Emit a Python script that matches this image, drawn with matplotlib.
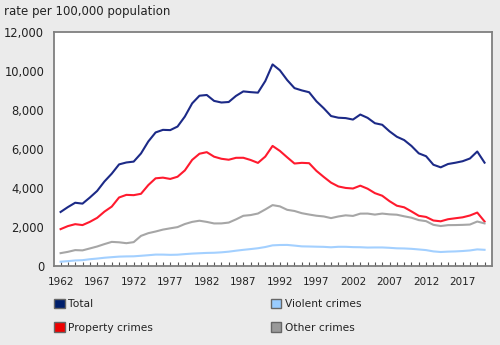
import matplotlib
matplotlib.use("Agg")
import matplotlib.pyplot as plt
from matplotlib.patches import Patch
from matplotlib.ticker import FuncFormatter, MultipleLocator

years = list(range(1962, 2021))

total = [2771, 3022, 3245, 3199, 3511, 3850, 4336, 4737, 5212, 5311,
         5355, 5773, 6388, 6852, 6984, 6971, 7154, 7666, 8343, 8736,
         8773, 8470, 8387, 8413, 8727, 8957, 8919, 8892, 9485, 10342,
         10040, 9538, 9125, 9008, 8914, 8449, 8093, 7693, 7607, 7587,
         7512, 7770, 7600, 7325, 7245, 6908, 6631, 6461, 6159, 5779,
         5632, 5195, 5061, 5232, 5297, 5375, 5515, 5874, 5301]

property_crimes = [1891, 2047, 2146, 2099, 2264, 2469, 2789, 3047, 3515, 3649,
                   3634, 3704, 4151, 4498, 4533, 4466, 4579, 4903, 5444, 5759,
                   5840, 5608, 5501, 5451, 5550, 5552, 5438, 5289, 5612, 6160,
                   5904, 5575, 5257, 5292, 5274, 4880, 4569, 4276, 4081, 4004,
                   3975, 4121, 3965, 3737, 3605, 3325, 3093, 3011, 2800, 2576,
                   2517, 2334, 2293, 2399, 2449, 2497, 2591, 2741, 2285]

violent = [221, 249, 284, 299, 347, 381, 423, 453, 481, 492,
           497, 524, 553, 585, 584, 572, 580, 610, 636, 654,
           671, 679, 701, 735, 785, 829, 868, 911, 973, 1059,
           1077, 1081, 1046, 1007, 1000, 990, 982, 960, 985, 984,
           968, 963, 946, 951, 951, 933, 907, 900, 881, 849,
           815, 749, 718, 737, 748, 768, 797, 852, 830]

other = [659, 726, 815, 801, 900, 1000, 1124, 1237, 1216, 1170,
         1224, 1545, 1684, 1769, 1867, 1933, 1995, 2153, 2263, 2323,
         2262, 2183, 2185, 2227, 2392, 2576, 2613, 2692, 2900, 3123,
         3059, 2882, 2822, 2709, 2640, 2579, 2542, 2457, 2541, 2599,
         2569, 2686, 2689, 2637, 2689, 2650, 2631, 2550, 2478, 2354,
         2300, 2112, 2050, 2096, 2100, 2110, 2127, 2281, 2186]

bg = "#ebebeb"
edge = "#7f7f7f"
txt = "#222222"

fig = plt.figure(figsize=(5, 3.45), dpi=100, facecolor=bg)
ax = fig.add_axes([0.108, 0.229, 0.875, 0.678])

ax.plot(years, total, color="#1c2a87", lw=1.5)
ax.plot(years, violent, color="#a3d0ff", lw=1.5)
ax.plot(years, property_crimes, color="#ff1a2e", lw=1.5)
ax.plot(years, other, color="#a6a6a6", lw=1.5)

ax.set_xlim(1961.1, 2020.95)
ax.set_ylim(0, 12000)
ax.set_xticks(range(1962, 2020, 5))
ax.xaxis.set_minor_locator(MultipleLocator(1))
ax.set_yticks(range(0, 12001, 2000))
ax.yaxis.set_major_formatter(FuncFormatter(lambda v, p: f"{int(v):,}"))

for s in ax.spines.values():
    s.set_color(edge)
    s.set_linewidth(1.3)

ax.tick_params(axis="x", which="both", direction="in", length=3, width=0.8,
               color="#555555", labelsize=7.5, pad=8, labelcolor=txt)
ax.tick_params(axis="y", length=0, labelsize=8.3, pad=7, labelcolor=txt)

fig.text(0.008, 0.967, "rate per 100,000 population", fontsize=8.5,
         color=txt, va="center", ha="left")

handles = [
    Patch(facecolor="#001f6b", edgecolor="#666666", label="Total"),
    Patch(facecolor="#ee0000", edgecolor="#666666", label="Property crimes"),
    Patch(facecolor="#99ccff", edgecolor="#666666", label="Violent crimes"),
    Patch(facecolor="#999999", edgecolor="#666666", label="Other crimes"),
]
fig.legend(handles=handles, ncol=2, loc="upper left",
           bbox_to_anchor=(0.1, 0.147), frameon=False, fontsize=7.7,
           handlelength=1.0, handleheight=1.0, handletextpad=0.3,
           columnspacing=11.0, labelspacing=1.25, borderaxespad=0,
           labelcolor=txt)

fig.savefig("out.png", dpi=100, facecolor=bg)
